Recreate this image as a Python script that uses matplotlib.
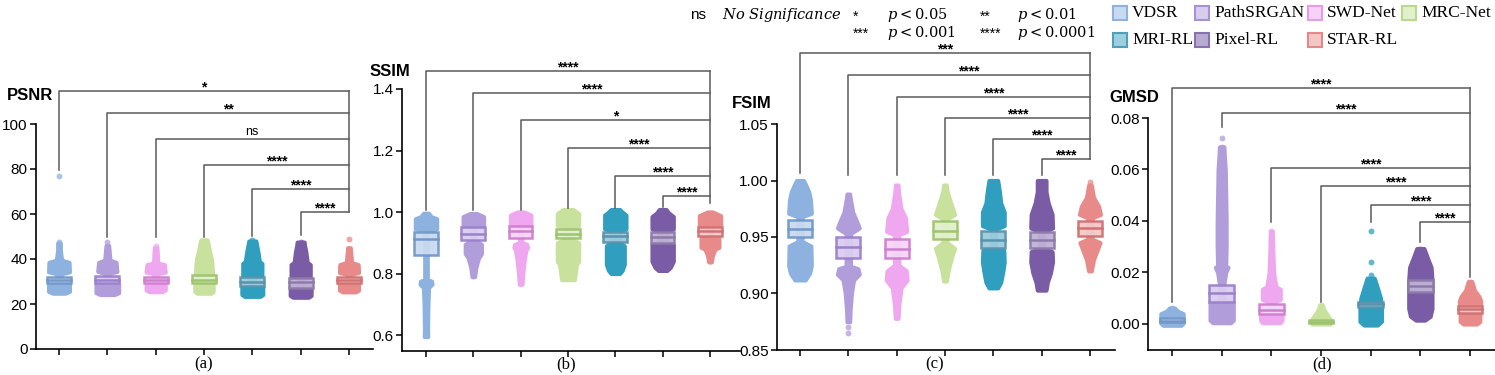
import matplotlib
matplotlib.use('Agg')
import matplotlib.pyplot as plt
from matplotlib.patches import Rectangle

plt.rcParams['font.family'] = ['Liberation Sans', 'DejaVu Sans']
plt.rcParams['mathtext.fontset'] = 'dejavuserif'

W, H = 1495, 375

METHODS = ['VDSR', 'PathSRGAN', 'SWD-Net', 'MRC-Net', 'MRI-RL', 'Pixel-RL', 'STAR-RL']
DOT_COLORS = ['#8DB2DF', '#B29DDB', '#EFA8EF', '#C8E29E', '#309FBF', '#7A5CA6', '#E98A8A']
BOX_FACE = ['#C9DAF0', '#DACDF0', '#F6D6F6', '#E2F0CC', '#9CCCDD', '#BFB1D6', '#F4CACA']
BOX_EDGE = ['#7398C8', '#9B81CC', '#CF7FCF', '#9DC46F', '#5A93AC', '#8C7BA8', '#D07272']
LEG_FACE = ['#C9DAF0', '#D8CDEE', '#F6D3F6', '#E3F0CE', '#9DD0DE', '#B7ABCF', '#F4C6C6']
LEG_EDGE = ['#8FB1DD', '#A991D6', '#E59EE5', '#B9D98E', '#4FA0B8', '#8673AE', '#E08A8A']

# ---- PSNR ----
PSNR_Q1 = [29.3, 29.2, 29.5, 29.3, 27.8, 27.0, 29.3]
PSNR_MED = [30.7, 30.8, 30.8, 30.5, 29.7, 29.6, 30.7]
PSNR_Q3 = [32.2, 32.6, 32.2, 32.8, 32.0, 31.4, 32.2]
PSNR_SHAPES = [
    [(24.8, 0.14), (25.6, 0.24), (29.2, 0.24), (29.5, 0.05), (33.4, 0.05), (34.3, 0.24), (38.5, 0.23), (39.5, 0.06), (44, 0.03), (47, 0.03)],
    [(24.2, 0.16), (25.0, 0.26), (28.9, 0.26), (29.2, 0.05), (33.6, 0.05), (34.5, 0.22), (38.5, 0.2), (39.5, 0.06), (46, 0.03)],
    [(25.5, 0.15), (26.3, 0.22), (29.4, 0.22), (29.6, 0.05), (33.5, 0.05), (34.2, 0.22), (37.5, 0.2), (38.2, 0.05), (45, 0.03)],
    [(24.8, 0.16), (25.6, 0.21), (29.5, 0.21), (30.0, 0.05), (31.0, 0.2), (36, 0.19), (40, 0.17), (44, 0.12), (47, 0.09), (48.5, 0.07)],
    [(23.4, 0.18), (24.2, 0.24), (28.0, 0.24), (28.3, 0.05), (31.8, 0.05), (32.3, 0.22), (38, 0.22), (39, 0.16), (43, 0.13), (46, 0.1), (48, 0.08)],
    [(23.0, 0.18), (23.8, 0.24), (27.8, 0.24), (28.1, 0.05), (31.8, 0.05), (32.3, 0.22), (37.5, 0.22), (38.5, 0.15), (43, 0.12), (46, 0.09), (47.5, 0.08)],
    [(25.4, 0.15), (26.2, 0.22), (29.2, 0.22), (29.5, 0.05), (33.2, 0.05), (34.0, 0.22), (37.5, 0.21), (38.4, 0.06), (45, 0.03)],
]
PSNR_DOTS = [[47.7, 77.0], [47.7], [46.0], [], [48.6], [47.5], [49.0]]
PSNR_BR_Y = [114.7, 105.0, 93.3, 81.8, 71.0, 60.7]
PSNR_BR_LEFT = [79.6, 49.9, 49.9, 49.9, 50.2, 50.7]
PSNR_BR_END = 60.7
PSNR_BR_TXT = ['*', '**', 'ns', '****', '****', '****']

# ---- SSIM ----
SSIM_Q1 = [0.860, 0.909, 0.914, 0.914, 0.903, 0.900, 0.922]
SSIM_MED = [0.911, 0.930, 0.937, 0.930, 0.922, 0.920, 0.937]
SSIM_Q3 = [0.936, 0.952, 0.954, 0.946, 0.936, 0.936, 0.952]
SSIM_SHAPES = [
    [(0.595, 0.04), (0.62, 0.035), (0.70, 0.045), (0.755, 0.06), (0.765, 0.14), (0.775, 0.13), (0.78, 0.03), (0.94, 0.03), (0.945, 0.25), (0.978, 0.25), (0.985, 0.12), (0.996, 0.06)],
    [(0.79, 0.03), (0.82, 0.06), (0.85, 0.12), (0.865, 0.19), (0.895, 0.19), (0.905, 0.08), (0.91, 0.03), (0.95, 0.03), (0.955, 0.24), (0.985, 0.24), (0.995, 0.08)],
    [(0.765, 0.03), (0.80, 0.05), (0.84, 0.08), (0.875, 0.12), (0.885, 0.16), (0.895, 0.14), (0.90, 0.03), (0.955, 0.03), (0.958, 0.24), (0.99, 0.24), (1.0, 0.08)],
    [(0.78, 0.15), (0.80, 0.17), (0.83, 0.2), (0.84, 0.25), (0.90, 0.25), (0.91, 0.1), (0.95, 0.1), (0.955, 0.25), (0.995, 0.25), (1.008, 0.12)],
    [(0.80, 0.1), (0.81, 0.16), (0.83, 0.21), (0.89, 0.21), (0.90, 0.1), (0.94, 0.1), (0.945, 0.25), (0.99, 0.25), (1.0, 0.16), (1.008, 0.1)],
    [(0.81, 0.1), (0.82, 0.18), (0.84, 0.25), (0.895, 0.25), (0.90, 0.1), (0.94, 0.1), (0.945, 0.25), (0.985, 0.25), (0.997, 0.14), (1.008, 0.08)],
    [(0.838, 0.03), (0.86, 0.06), (0.88, 0.12), (0.885, 0.21), (0.915, 0.21), (0.92, 0.03), (0.955, 0.03), (0.958, 0.25), (0.988, 0.25), (1.0, 0.06)],
]
SSIM_DOTS = [[0.60], [0.792], [0.77], [], [], [], [0.84]]
SSIM_BR_Y = [1.459, 1.388, 1.299, 1.208, 1.117, 1.052]
SSIM_BR_LEFT = [1.006, 1.006, 1.006, 1.013, 1.013, 1.017]
SSIM_BR_END = 1.03
SSIM_BR_TXT = ['****', '****', '*', '****', '****', '****']

# ---- FSIM ----
FSIM_Q1 = [0.950, 0.931, 0.931, 0.948, 0.940, 0.940, 0.951]
FSIM_MED = [0.957, 0.941, 0.939, 0.955, 0.947, 0.947, 0.958]
FSIM_Q3 = [0.965, 0.950, 0.948, 0.964, 0.955, 0.954, 0.964]
FSIM_SHAPES = [
    [(0.912, 0.12), (0.918, 0.22), (0.925, 0.26), (0.942, 0.25), (0.946, 0.05), (0.968, 0.05), (0.971, 0.26), (0.983, 0.24), (0.99, 0.2), (0.997, 0.12), (1.0, 0.08)],
    [(0.875, 0.03), (0.885, 0.04), (0.90, 0.07), (0.912, 0.12), (0.917, 0.25), (0.922, 0.22), (0.924, 0.05), (0.953, 0.05), (0.958, 0.25), (0.963, 0.2), (0.972, 0.1), (0.985, 0.04), (0.988, 0.03)],
    [(0.878, 0.03), (0.89, 0.05), (0.905, 0.1), (0.912, 0.24), (0.92, 0.22), (0.925, 0.05), (0.952, 0.05), (0.955, 0.23), (0.967, 0.2), (0.975, 0.1), (0.99, 0.04), (0.996, 0.03)],
    [(0.911, 0.03), (0.92, 0.07), (0.932, 0.15), (0.94, 0.22), (0.945, 0.05), (0.966, 0.05), (0.97, 0.22), (0.978, 0.15), (0.99, 0.05), (0.996, 0.03)],
    [(0.905, 0.1), (0.91, 0.17), (0.92, 0.22), (0.928, 0.25), (0.938, 0.24), (0.94, 0.05), (0.957, 0.05), (0.96, 0.25), (0.972, 0.25), (0.98, 0.17), (0.99, 0.14), (1.0, 0.1)],
    [(0.903, 0.1), (0.91, 0.13), (0.918, 0.2), (0.928, 0.25), (0.937, 0.24), (0.94, 0.05), (0.955, 0.05), (0.958, 0.25), (0.97, 0.24), (0.98, 0.15), (0.99, 0.1), (1.0, 0.1)],
    [(0.92, 0.03), (0.93, 0.08), (0.94, 0.18), (0.945, 0.23), (0.948, 0.05), (0.967, 0.05), (0.97, 0.24), (0.977, 0.2), (0.985, 0.08), (0.996, 0.03)],
]
FSIM_DOTS = [[], [0.865, 0.870], [0.88], [0.912], [], [], [0.999]]
FSIM_BR_Y = [1.1126, 1.0934, 1.0742, 1.0556, 1.0367, 1.019]
FSIM_BR_LEFT = [1.0064, 1.005, 1.005, 1.005, 1.005, 1.005]
FSIM_BR_END = 1.019
FSIM_BR_TXT = ['***', '****', '****', '****', '****', '****']

# ---- GMSD ----
GMSD_Q1 = [0.0006, 0.0087, 0.0039, 0.0003, 0.0067, 0.0126, 0.0043]
GMSD_MED = [0.0012, 0.0121, 0.0055, 0.0008, 0.0078, 0.0148, 0.0058]
GMSD_Q3 = [0.0022, 0.0151, 0.0078, 0.0015, 0.0087, 0.0171, 0.0071]
GMSD_SHAPES = [
    [(-0.0005, 0.2), (0.0003, 0.25), (0.004, 0.25), (0.005, 0.12), (0.0062, 0.06)],
    [(0.0005, 0.2), (0.0015, 0.26), (0.0085, 0.26), (0.009, 0.05), (0.0155, 0.05), (0.02, 0.09), (0.022, 0.14), (0.0225, 0.09), (0.03, 0.1), (0.04, 0.1), (0.05, 0.09), (0.06, 0.08), (0.065, 0.06), (0.0688, 0.05)],
    [(0.0005, 0.2), (0.0015, 0.24), (0.0045, 0.24), (0.005, 0.05), (0.0085, 0.05), (0.0095, 0.2), (0.0135, 0.2), (0.0145, 0.1), (0.02, 0.05), (0.03, 0.03), (0.036, 0.02)],
    [(0.0, 0.2), (0.0005, 0.22), (0.002, 0.2), (0.004, 0.12), (0.006, 0.05), (0.0074, 0.03)],
    [(-0.0004, 0.15), (0.001, 0.24), (0.006, 0.24), (0.01, 0.22), (0.014, 0.15), (0.0178, 0.08)],
    [(0.0015, 0.1), (0.003, 0.22), (0.006, 0.26), (0.017, 0.26), (0.022, 0.24), (0.026, 0.15), (0.0293, 0.08)],
    [(0.0, 0.15), (0.001, 0.22), (0.0043, 0.22), (0.0088, 0.24), (0.0107, 0.2), (0.013, 0.1), (0.0165, 0.04)],
]
GMSD_DOTS = [[0.0062], [0.0721, 0.0688], [0.0363, 0.0325], [0.0074], [0.0363, 0.0241, 0.019], [0.0293], [0.0165]]
GMSD_BR_Y = [0.0915, 0.0818, 0.0605, 0.0536, 0.0462, 0.0397]
GMSD_BR_LEFT = [0.0087, 0.0766, 0.0397, 0.0087, 0.0397, 0.032]
GMSD_BR_END = 0.0184
GMSD_BR_TXT = ['****', '****', '****', '****', '****', '****']

PANELS = [
    dict(name='PSNR', tag='(a)', rect=(36, 373, 124, 349), tick0=59, step=48.33, ylim=(0, 100),
         yticks=[0, 20, 40, 60, 80, 100], fmt='{:.0f}', title_xy=(7, 95), tag_x=204,
         q1=PSNR_Q1, med=PSNR_MED, q3=PSNR_Q3, shapes=PSNR_SHAPES, dots=PSNR_DOTS,
         br_y=PSNR_BR_Y, br_left=PSNR_BR_LEFT, br_end=PSNR_BR_END, br_txt=PSNR_BR_TXT),
    dict(name='SSIM', tag='(b)', rect=(402, 740, 89, 351), tick0=426, step=47.33, ylim=(0.548, 1.4),
         yticks=[0.6, 0.8, 1.0, 1.2, 1.4], fmt='{:.1f}', title_xy=(370, 72), tag_x=566,
         q1=SSIM_Q1, med=SSIM_MED, q3=SSIM_Q3, shapes=SSIM_SHAPES, dots=SSIM_DOTS,
         br_y=SSIM_BR_Y, br_left=SSIM_BR_LEFT, br_end=SSIM_BR_END, br_txt=SSIM_BR_TXT),
    dict(name='FSIM', tag='(c)', rect=(777, 1115, 124, 350), tick0=800, step=48.33, ylim=(0.85, 1.05),
         yticks=[0.85, 0.90, 0.95, 1.00, 1.05], fmt='{:.2f}', title_xy=(732, 104), tag_x=935,
         q1=FSIM_Q1, med=FSIM_MED, q3=FSIM_Q3, shapes=FSIM_SHAPES, dots=FSIM_DOTS,
         br_y=FSIM_BR_Y, br_left=FSIM_BR_LEFT, br_end=FSIM_BR_END, br_txt=FSIM_BR_TXT),
    dict(name='GMSD', tag='(d)', rect=(1148, 1495, 118, 350), tick0=1172, step=49.67, ylim=(-0.0101, 0.08),
         yticks=[0.00, 0.02, 0.04, 0.06, 0.08], fmt='{:.2f}', title_xy=(1109, 97), tag_x=1322,
         q1=GMSD_Q1, med=GMSD_MED, q3=GMSD_Q3, shapes=GMSD_SHAPES, dots=GMSD_DOTS,
         br_y=GMSD_BR_Y, br_left=GMSD_BR_LEFT, br_end=GMSD_BR_END, br_txt=GMSD_BR_TXT),
]

BRACKET_COLOR = '#5a5a5a'


def draw_panel(fig, p):
    l, r, t, b = p['rect']
    ax = fig.add_axes([l / W, 1 - b / H, (r - l) / W, (b - t) / H])
    ax.set_xlim((l - p['tick0']) / p['step'], (r - p['tick0']) / p['step'])
    ax.set_ylim(*p['ylim'])

    for i in range(len(METHODS)):
        ys = [v for v, _ in p['shapes'][i]]
        ws = [w for _, w in p['shapes'][i]]
        # dot cloud silhouette, thick round edge softens the steps
        ax.fill_betweenx(ys, [i - w * 0.9 for w in ws], [i + w * 0.9 for w in ws],
                         facecolor=DOT_COLORS[i], edgecolor=DOT_COLORS[i], lw=3,
                         joinstyle='round', zorder=2)
        if p['dots'][i]:
            ax.scatter([i] * len(p['dots'][i]), p['dots'][i], s=18, color=DOT_COLORS[i],
                       alpha=0.75, lw=0, zorder=2)
        q1, q3 = p['q1'][i], p['q3'][i]
        ax.add_patch(Rectangle((i - 0.25, q1), 0.5, q3 - q1, facecolor=BOX_FACE[i],
                               edgecolor=BOX_EDGE[i], lw=1.8, alpha=0.95, zorder=4))
        ax.plot([i - 0.25, i + 0.25], [p['med'][i]] * 2, color=BOX_EDGE[i], lw=1.8, zorder=5)

    # significance brackets (drawn above the axes)
    last = len(METHODS) - 1
    for j, (yb, yl, txt) in enumerate(zip(p['br_y'], p['br_left'], p['br_txt'])):
        ax.plot([j, j, last], [yl, yb, yb], color=BRACKET_COLOR, lw=1.1, clip_on=False, zorder=3)
        ax.annotate(txt, ((j + last) / 2, yb), xytext=(0, 0.5 if txt == 'ns' else -2.5),
                    textcoords='offset points', ha='center', va='bottom',
                    fontsize=9 if txt == 'ns' else 10, fontweight='normal' if txt == 'ns' else 'bold',
                    annotation_clip=False)
    ax.plot([last, last], [p['br_y'][0], p['br_end']], color=BRACKET_COLOR, lw=1.1,
            clip_on=False, zorder=3)

    ax.spines['top'].set_visible(False)
    ax.spines['right'].set_visible(False)
    for s in ('left', 'bottom'):
        ax.spines[s].set_linewidth(1.2)
    ax.set_xticks(range(len(METHODS)))
    ax.set_xticklabels([])
    ax.set_yticks(p['yticks'])
    ax.set_yticklabels([p['fmt'].format(v) for v in p['yticks']])
    ax.tick_params(axis='both', length=4, width=1.1, labelsize=11, pad=2)

    fig.text(p['title_xy'][0] / W, 1 - p['title_xy'][1] / H, p['name'], fontsize=12,
             fontweight='bold', ha='left', va='center')
    fig.text(p['tag_x'] / W, 1 - 364 / H, p['tag'], fontsize=12, family='Liberation Serif',
             ha='center', va='center')
    return ax


fig = plt.figure(figsize=(W / 100, H / 100), dpi=100)
for p in PANELS:
    draw_panel(fig, p)

# significance key
SIG_KEYS = [('ns', 690, 15), ('*', 853, 17), ('**', 980, 17), ('***', 853, 34), ('****', 980, 34)]
SIG_TEXT = [(r'$No\ Significance$', 722, 15), (r'$p < 0.05$', 887, 15), (r'$p < 0.01$', 1017, 15),
            (r'$p < 0.001$', 887, 33), (r'$p < 0.0001$', 1017, 33)]
for txt, x, y in SIG_KEYS:
    fig.text(x / W, 1 - y / H, txt, fontsize=11 if txt == 'ns' else 10, ha='left', va='center')
for txt, x, y in SIG_TEXT:
    fig.text(x / W, 1 - y / H, txt, fontsize=10.5, ha='left', va='center')

# method legend, column-major like the original
LEG_POS = [(1113, 13), (1195, 13), (1308, 13), (1402, 13), (1113, 40), (1195, 40), (1308, 40)]
for k, (x, y) in enumerate(LEG_POS):
    fig.add_artist(Rectangle((x / W, 1 - (y + 7) / H), 14 / W, 14 / H, facecolor=LEG_FACE[k],
                             edgecolor=LEG_EDGE[k], lw=1.5, transform=fig.transFigure))
    fig.text((x + 19) / W, 1 - y / H, METHODS[k], fontsize=12.5, family='Liberation Serif',
             ha='left', va='center')

fig.savefig('out.png', dpi=100)
